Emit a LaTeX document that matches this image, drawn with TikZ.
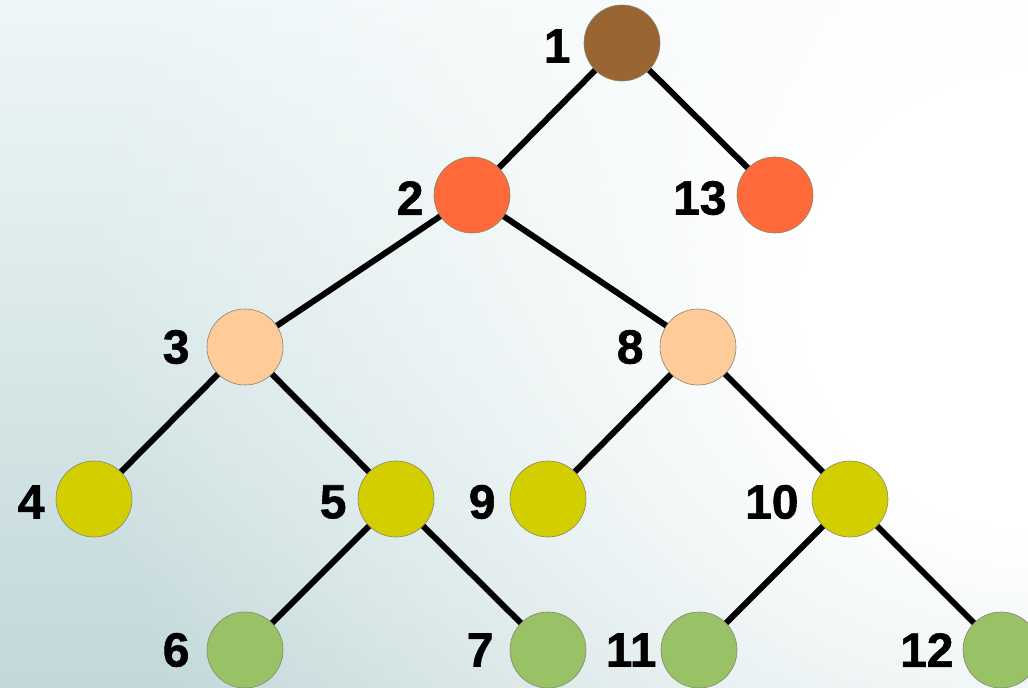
\documentclass[tikz,border=0pt]{standalone}
\usepackage{fontspec}
\setmainfont{Liberation Sans}
\newfontfamily\numfont[FakeBold=1.2]{Liberation Sans Bold}
\usetikzlibrary{fadings}

\definecolor{bgteal}{HTML}{C2D8D9}
\definecolor{bgtop}{HTML}{EEF6F7}
\definecolor{rootbrown}{HTML}{996633}
\definecolor{lvltwo}{HTML}{FF6A3A}
\definecolor{lvlthree}{HTML}{FFCC99}
\definecolor{lvlfour}{HTML}{D2CE00}
\definecolor{lvlfive}{HTML}{99C266}
\definecolor{rimgray}{HTML}{858570}

% soft white glow used over the background
\pgfdeclareradialshading{glowshade}{\pgfpointorigin}{%
  color(0bp)=(white); color(6bp)=(white); color(25bp)=(black); color(50bp)=(black)}
\pgfdeclarefading{glow}{\pgfuseshading{glowshade}}

\pgfdeclarelayer{back}
\pgfdeclarelayer{edges}
\pgfsetlayers{back,edges,main}

\tikzset{
  vtx/.style={circle, draw=rimgray, line width=0.6pt, minimum size=76pt, inner sep=0pt},
  lbl/.style={font=\fontsize{48}{48}\numfont, inner sep=0pt, anchor=east},
  link/.style={line width=6pt, black}
}

\begin{document}
\begin{tikzpicture}[x=1pt, y=-1pt]
\useasboundingbox (0,0) rectangle (1028,688);
\clip (0,0) rectangle (1028,688);

\begin{pgfonlayer}{back}
  \shade[top color=bgtop, bottom color=bgteal] (0,0) rectangle (1028,688);
  \fill[white, path fading=glow, fit fading=true] (1028,300) circle (950);
\end{pgfonlayer}

% vertices
\node[vtx, fill=rootbrown] (n1)  at (622,43)  {};
\node[vtx, fill=lvltwo]    (n2)  at (472,195) {};
\node[vtx, fill=lvltwo]    (n13) at (775,195) {};
\node[vtx, fill=lvlthree]  (n3)  at (245,347) {};
\node[vtx, fill=lvlthree]  (n8)  at (698,347) {};
\node[vtx, fill=lvlfour]   (n4)  at (94,499)  {};
\node[vtx, fill=lvlfour]   (n5)  at (396,499) {};
\node[vtx, fill=lvlfour]   (n9)  at (548,499) {};
\node[vtx, fill=lvlfour]   (n10) at (850,499) {};
\node[vtx, fill=lvlfive]   (n6)  at (245,650) {};
\node[vtx, fill=lvlfive]   (n7)  at (548,650) {};
\node[vtx, fill=lvlfive]   (n11) at (699,650) {};
\node[vtx, fill=lvlfive]   (n12) at (1001,650) {};

% vertex numbers
\node[lbl] (t1)  at ([xshift=-13pt, yshift=-3pt]n1.west)  {1};
\node[lbl] (t2)  at ([xshift=-10pt, yshift=-3pt]n2.west)  {2};
\node[lbl] (t13) at ([xshift=-10pt, yshift=-3pt]n13.west) {13};
\node[lbl] (t3)  at ([xshift=-17pt, yshift=0pt]n3.west)   {3};
\node[lbl] (t8)  at ([xshift=-16pt, yshift=0pt]n8.west)   {8};
\node[lbl] (t4)  at ([xshift=-11pt, yshift=-3pt]n4.west)  {4};
\node[lbl] (t5)  at ([xshift=-11pt, yshift=-3pt]n5.west)  {5};
\node[lbl] (t9)  at ([xshift=-14pt, yshift=-3pt]n9.west)  {9};
\node[lbl] (t10) at ([xshift=-13pt, yshift=-3pt]n10.west) {10};
\node[lbl] (t6)  at ([xshift=-17pt, yshift=0pt]n6.west)   {6};
\node[lbl] (t7)  at ([xshift=-16pt, yshift=0pt]n7.west)   {7};
\node[lbl] (t11) at ([xshift=-4pt, yshift=0pt]n11.west)   {11};
\node[lbl] (t12) at ([xshift=-9pt, yshift=0pt]n12.west)   {12};

% tree edges
\begin{pgfonlayer}{edges}
  \draw[link] (n1.center) -- (n2.center);
  \draw[link] (n1.center) -- (n13.center);
  \draw[link] (n2.center) -- (n3.center);
  \draw[link] (n2.center) -- (n8.center);
  \draw[link] (n3.center) -- (n4.center);
  \draw[link] (n3.center) -- (n5.center);
  \draw[link] (n8.center) -- (n9.center);
  \draw[link] (n8.center) -- (n10.center);
  \draw[link] (n5.center) -- (n6.center);
  \draw[link] (n5.center) -- (n7.center);
  \draw[link] (n10.center) -- (n11.center);
  \draw[link] (n10.center) -- (n12.center);
\end{pgfonlayer}
\end{tikzpicture}
\end{document}
